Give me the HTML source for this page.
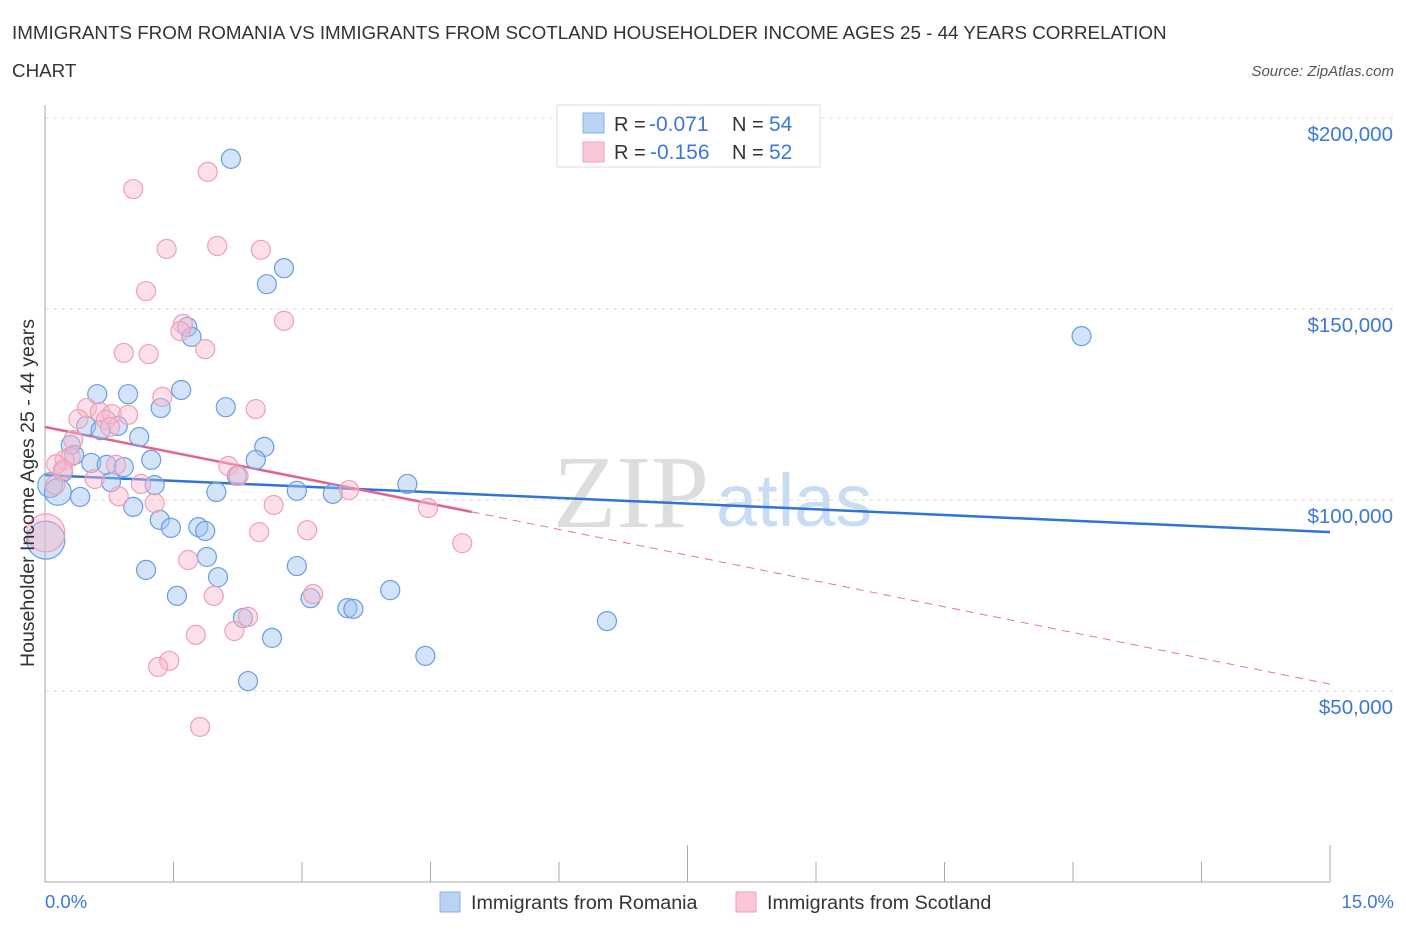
<!DOCTYPE html>
<html><head><meta charset="utf-8"><style>
body{margin:0;background:#fff;font-family:"Liberation Sans",sans-serif;}
</style></head><body>
<svg id="c" width="1406" height="930" xmlns="http://www.w3.org/2000/svg" font-family="Liberation Sans, sans-serif">
<text x="12" y="39" font-size="18.8" fill="#333">IMMIGRANTS FROM ROMANIA VS IMMIGRANTS FROM SCOTLAND HOUSEHOLDER INCOME AGES 25 - 44 YEARS CORRELATION</text>
<text x="12" y="77" font-size="18.8" fill="#333">CHART</text>
<text x="1394" y="76" font-size="15" fill="#555" font-style="italic" text-anchor="end">Source: ZipAtlas.com</text>
<text x="553" y="527" font-size="104" fill="#ddd" font-family="Liberation Serif, serif">ZIP</text>
<text x="716" y="526" font-size="74" fill="#c9dcf3">atlas</text>
<g id="grid"></g><g id="axes"></g><g id="trend"></g><g id="pts"></g>
<g>
<rect x="557" y="105" width="263" height="62" fill="#fff" stroke="#ddd"/>
<rect x="583" y="113" width="21" height="20" fill="#b9d3f3" stroke="#8ab0e8"/>
<rect x="583" y="142" width="21" height="20" fill="#f9c7d6" stroke="#f0a0b8"/>
<text x="614" y="131" font-size="20" fill="#333">R =</text><text x="649" y="131" font-size="21" fill="#3b78d8">-0.071</text>
<text x="732" y="131" font-size="20" fill="#333">N =</text><text x="769" y="131" font-size="21" fill="#3b78d8">54</text>
<text x="614" y="159" font-size="20" fill="#333">R =</text><text x="650" y="159" font-size="21" fill="#3b78d8">-0.156</text>
<text x="732" y="159" font-size="20" fill="#333">N =</text><text x="769" y="159" font-size="21" fill="#3b78d8">52</text>
</g>
<text x="34" y="493" font-size="19.5" fill="#333" text-anchor="middle" transform="rotate(-90 34 493)">Householder Income Ages 25 - 44 years</text>
<text x="45" y="908" font-size="18.5" fill="#3b78d8">0.0%</text>
<text x="1394" y="908" font-size="18.5" fill="#3b78d8" text-anchor="end">15.0%</text>
<g>
<rect x="440" y="892" width="20" height="20" fill="#b9d3f3" stroke="#8ab0e8"/>
<text x="471" y="909" font-size="19.7" fill="#333">Immigrants from Romania</text>
<rect x="736" y="892" width="20" height="20" fill="#f9c7d6" stroke="#f0a0b8"/>
<text x="767" y="909" font-size="19.7" fill="#333">Immigrants from Scotland</text>
</g>
</svg>
<script>
const blueX=[2.17,2.79,2.59,1.66,1.71,12.10,0.61,0.97,1.59,1.35,2.11,0.48,0.85,0.65,1.10,0.30,2.56,0.34,1.24,2.46,0.54,0.72,0.92,0.21,2.24,0.77,1.28,4.23,0.06,0.15,0.41,2.00,2.94,3.36,1.03,1.34,1.47,1.79,1.87,0.01,1.89,1.18,2.94,2.02,4.03,1.54,3.10,3.53,3.60,6.56,2.31,2.65,4.44,2.37];
const blueY=[189.3,160.7,156.5,145.3,142.7,142.9,127.7,127.7,128.8,124.1,124.3,119.4,119.4,118.3,116.5,114.4,113.9,111.8,110.5,110.5,109.7,109.2,108.6,107.3,106.3,104.7,103.9,104.2,103.9,102.1,100.8,102.1,102.4,101.6,98.2,94.8,92.7,92.9,91.9,89.5,85.1,81.7,82.7,79.8,76.4,74.9,74.3,71.7,71.5,68.3,69.1,63.9,59.2,52.6];
const blueSize=[1,1,1,1,1,1,1,1,1,1,1,1,1,1,1,1,1,1,1,1,1,1,1,1,1,1,1,1,1.3,1.4,1,1,1,1,1,1,1,1,1,2,1,1,1,1,1,1,1,1,1,1,1,1,1,1];
const pinkX=[1.90,1.03,1.42,2.01,2.52,1.18,1.61,1.58,2.79,1.87,0.92,1.21,1.37,2.46,0.49,0.64,0.78,0.97,0.39,0.71,0.76,0.33,0.30,0.23,0.13,0.83,2.14,0.21,0.58,2.26,0.12,1.12,0.86,1.28,3.55,2.67,4.47,2.50,3.06,0.01,4.87,1.67,3.13,1.97,2.37,2.21,1.76,1.45,1.32,1.81];
const pinkY=[185.9,181.4,165.7,166.5,165.5,154.7,146.1,144.2,146.9,139.5,138.5,138.2,127.0,123.8,124.1,123.0,122.5,122.3,121.2,121.0,119.1,115.7,111.3,110.5,109.4,109.2,108.9,107.9,105.5,106.3,103.9,104.2,101.0,99.2,102.6,98.7,97.9,91.6,92.1,91.4,88.7,84.3,75.4,74.9,69.4,65.7,64.7,57.9,56.3,40.6];
const pinkSize=[1,1,1,1,1,1,1,1,1,1,1,1,1,1,1,1,1,1,1,1,1,1,1,1,1,1,1,1,1,1,1,1,1,1,1,1,1,1,1,2,1,1,1,1,1,1,1,1,1,1];
const yTicks=[50,100,150,200];
const yTickLabels=["$50,000","$100,000","$150,000","$200,000"];
const blueTrend=[[0,106.5],[15,91.6]];
const pinkTrendSolid=[[0,119.1],[4.98,96.9]];
const pinkTrendDash=[[4.98,96.9],[15,51.8]];
const NS="http://www.w3.org/2000/svg";
const X=v=>45+v/15*1285;
const Y=v=>500-(v-100)*191/50;
function mk(t,a,p){const e=document.createElementNS(NS,t);for(const k in a)e.setAttribute(k,a[k]);p.appendChild(e);return e;}
const grid=document.getElementById('grid'),axes=document.getElementById('axes');
yTicks.forEach((t,i)=>{
 const g=mk('line',{x1:45,x2:1394,y1:Y(t),y2:Y(t),stroke:'#ddd','stroke-dasharray':'4,4'},grid);
 
 
 const l=mk('text',{x:1393,y:Y(t)+23,'font-size':20.5,fill:'#3b78d8','text-anchor':'end'},axes);
 l.textContent=yTickLabels[i];
 
 
});
const ya=mk('line',{x1:45,x2:45,y1:105,y2:882,stroke:'#aaa'},axes);


const xa=mk('line',{x1:45,x2:1330,y1:882,y2:882,stroke:'#aaa'},axes);


for(let i=0;i<=10;i++){const tx=45+i*128.5;const t=mk('line',{x1:tx,x2:tx,y1:882,y2:(i%5==0?845:862),stroke:'#aaa'},axes);
 
 }
const tr=document.getElementById('trend');
function seg(p,st,dash,name){const a={x1:X(p[0][0]),y1:Y(p[0][1]),x2:X(p[1][0]),y2:Y(p[1][1]),stroke:st,'stroke-width':dash?1:2.5};if(dash)a['stroke-dasharray']='8,6';const l=mk('line',a,tr);
 
 }
seg(pinkTrendDash,'#e07898',true,'scotland-trend-dashed');
seg(blueTrend,'#2f74d6',false,'romania-trend-line');
seg(pinkTrendSolid,'#e2648c',false,'scotland-trend-line');
const pts=document.getElementById('pts');
blueX.forEach((x,i)=>{const c=mk('circle',{cx:X(x),cy:Y(blueY[i]),r:9.5*blueSize[i],fill:'rgba(160,195,240,0.45)',stroke:'#6b9de0','stroke-width':1.2},pts);
 
 });
pinkX.forEach((x,i)=>{const c=mk('circle',{cx:X(x),cy:Y(pinkY[i]),r:9.5*pinkSize[i],fill:'rgba(248,185,205,0.45)',stroke:'#eea0b8','stroke-width':1.2},pts);
 
 });
</script>
</body></html>
